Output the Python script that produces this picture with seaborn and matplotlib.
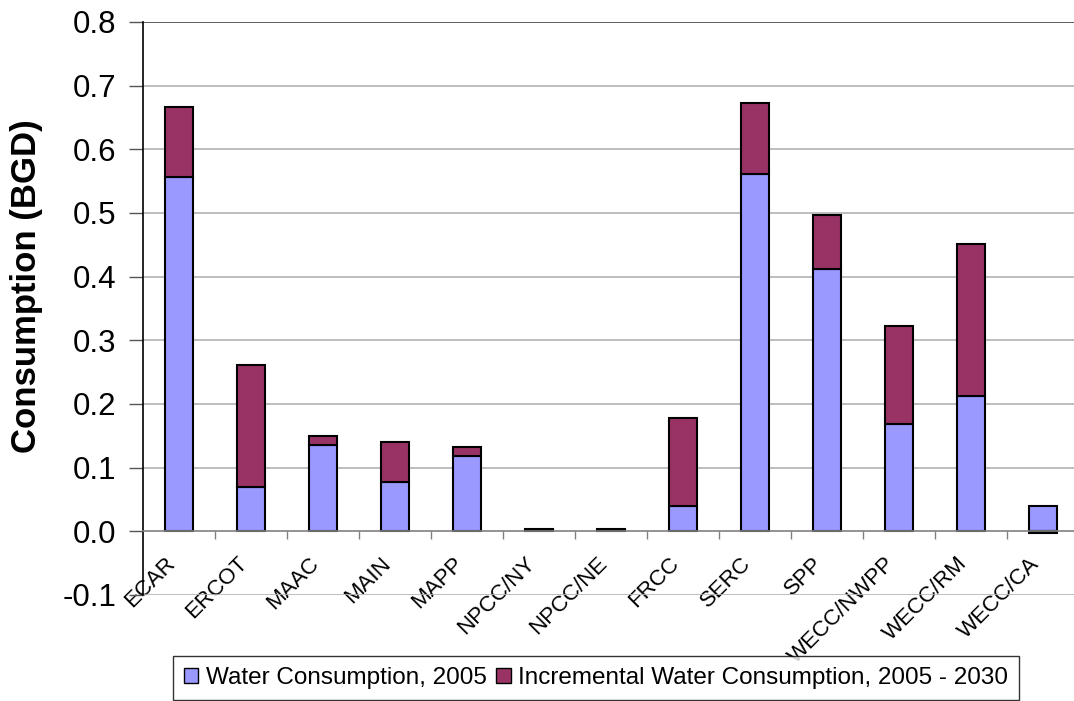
import numpy as np
import pandas as pd
import matplotlib
matplotlib.use('Agg')
from matplotlib import pyplot as plt
from matplotlib.patches import Patch
from matplotlib.transforms import ScaledTranslation
import seaborn as sns

sns.set_style('white')
plt.rcParams['font.family'] = ['Liberation Sans', 'DejaVu Sans']
plt.rcParams['text.color'] = 'black'
plt.rcParams['xtick.color'] = 'black'
plt.rcParams['ytick.color'] = 'black'
plt.rcParams['axes.labelcolor'] = 'black'

regions = ['ECAR', 'ERCOT', 'MAAC', 'MAIN', 'MAPP', 'NPCC/NY', 'NPCC/NE',
           'FRCC', 'SERC', 'SPP', 'WECC/NWPP', 'WECC/RM', 'WECC/CA']
consumption_2005 = [0.556, 0.069, 0.135, 0.078, 0.118, 0.002, 0.002,
                    0.040, 0.562, 0.412, 0.168, 0.213, 0.040]
incremental = [0.111, 0.192, 0.015, 0.063, 0.014, 0.001, 0.001,
               0.138, 0.110, 0.085, 0.155, 0.239, -0.003]
y_ticks = [-0.1, 0.0, 0.1, 0.2, 0.3, 0.4, 0.5, 0.6, 0.7, 0.8]

blue = '#9999FF'
maroon = '#993366'

df = pd.DataFrame({'region': regions, 'base': consumption_2005, 'incr': incremental})
# Excel stacks negative increments down from zero
df['incr_bottom'] = np.where(df['incr'] >= 0, df['base'], 0.0)

W, H = 1074, 701
fig = plt.figure(figsize=(W / 100, H / 100), dpi=100)
ax = fig.add_axes([143 / W, (H - 595) / H, (1079 - 143) / W, (595 - 22) / H])

sns.barplot(data=df, x='region', y='base', color=blue, width=0.4,
            edgecolor='black', linewidth=1.5, saturation=1, ax=ax, zorder=3)
sns.barplot(data=df, x='region', y='incr', color=maroon, width=0.4,
            bottom=df['incr_bottom'].values, edgecolor='black', linewidth=1.5,
            saturation=1, ax=ax, zorder=3)

ax.set_xlim(-0.5, len(regions) - 0.5)
ax.set_ylim(-0.1, 0.8)
ax.set_yticks(y_ticks)
ax.set_yticklabels([f'{v:.1f}' for v in y_ticks], fontsize=22.5)
for v in y_ticks:
    if v == 0.0:
        continue
    ax.axhline(v, color='#404040' if v == 0.8 else '#B3B3B3', lw=1.2, zorder=1)

ax.spines['right'].set_visible(False)
ax.spines['top'].set_visible(False)
ax.spines['left'].set_color('black')
ax.spines['left'].set_linewidth(1.2)
ax.spines['bottom'].set_position(('data', 0))
ax.spines['bottom'].set_color('#808080')
ax.spines['bottom'].set_linewidth(1.2)
ax.spines['bottom'].set_zorder(4)

ax.tick_params(axis='y', direction='out', length=10, width=1, color='#555555',
               left=True, pad=9)
ax.set_xticks(np.arange(len(regions)))
ax.set_xticklabels(regions, rotation=45, ha='right', va='center',
                   rotation_mode='anchor', fontsize=16)
ax.tick_params(axis='x', which='major', length=0, pad=21)
ax.set_xticks(np.arange(len(regions) - 1) + 0.5, minor=True)
ax.tick_params(axis='x', which='minor', direction='out', length=6, width=1,
               color='#808080', bottom=True)
shift = ScaledTranslation(-7 / 100, 0, fig.dpi_scale_trans)
for lbl in ax.get_xticklabels():
    lbl.set_transform(lbl.get_transform() + shift)

ax.set_xlabel('')
ax.set_ylabel('Consumption (BGD)', fontsize=25, fontweight='bold')
ax.yaxis.set_label_coords((43 - 143) / 936, (595 - 286) / 573)

handles = [Patch(facecolor=blue, edgecolor='black', lw=1),
           Patch(facecolor=maroon, edgecolor='black', lw=1)]
leg = fig.legend(handles, ['Water Consumption, 2005',
                           'Incremental Water Consumption, 2005 - 2030'],
                 loc='upper center', bbox_to_anchor=(596 / W, (H - 656) / H),
                 ncol=2, fontsize=17.5, frameon=True, fancybox=False,
                 handlelength=0.6, handleheight=0.6, handletextpad=0.3,
                 columnspacing=0.4, borderpad=0.45, borderaxespad=0)
leg.get_frame().set_edgecolor('black')
leg.get_frame().set_linewidth(1)

fig.savefig('out.png', dpi=100)
